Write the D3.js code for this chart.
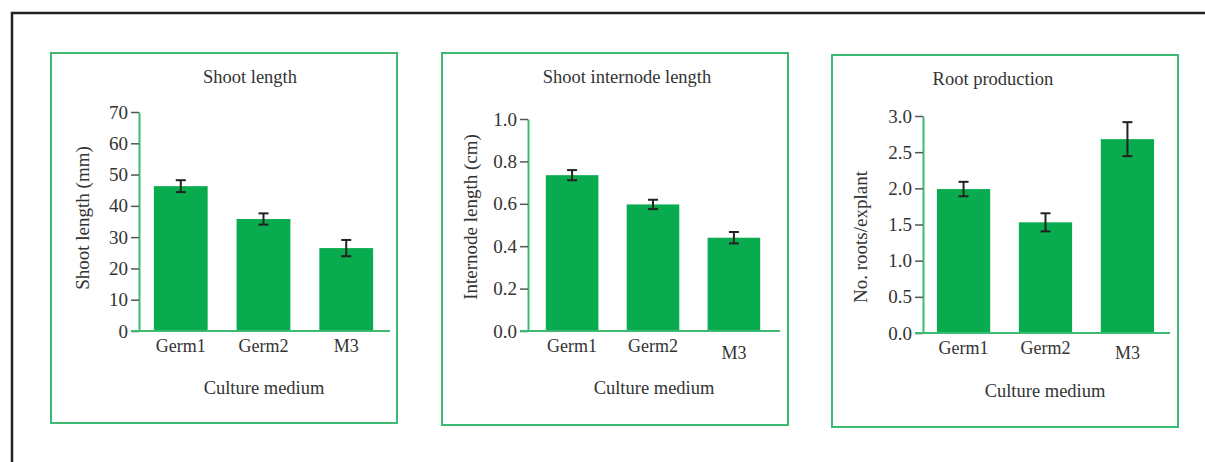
<!DOCTYPE html>
<html>
<head>
<meta charset="utf-8">
<script src="https://cdn.jsdelivr.net/npm/d3@7"></script>
<style>
  body { margin: 0; background: #fff; }
  svg text { font-family: "Liberation Serif", "Times New Roman", serif !important; fill: #333; }
</style>
</head>
<body>
<div id="chart"></div>
<script>
// data
var categories = ["Germ1", "Germ2", "M3"];

var shootLength = [46.3, 35.8, 26.5];
var shootLengthErr = [1.9, 1.8, 2.6];
var shootTicks = [0, 10, 20, 30, 40, 50, 60, 70];

var internodeLength = [0.735, 0.597, 0.44];
var internodeErr = [0.024, 0.022, 0.027];
var internodeTicks = [0, 0.2, 0.4, 0.6, 0.8, 1.0];

var rootCount = [1.99, 1.53, 2.68];
var rootCountErr = [0.1, 0.125, 0.235];
var rootTicks = [0, 0.5, 1.0, 1.5, 2.0, 2.5, 3.0];

var titles = ["Shoot length", "Shoot internode length", "Root production"];
var yLabels = ["Shoot length (mm)", "Internode length (cm)", "No. roots/explant"];
var xLabel = "Culture medium";

var green = "#08ab4e";
var frameGreen = "#3cba74";

var svg = d3.select("#chart")
  .append("svg")
  .attr("width", 1205)
  .attr("height", 462);

// outer black frame (top and left only)
svg.append("line")
  .attr("x1", 11).attr("x2", 1205).attr("y1", 13).attr("y2", 13)
  .attr("stroke", "#222").attr("stroke-width", 2.5);
svg.append("line")
  .attr("x1", 12).attr("x2", 12).attr("y1", 12).attr("y2", 462)
  .attr("stroke", "#222").attr("stroke-width", 2.5);

function makePanel(p, values, errs, ticks, fmt, title, ylab) {
  svg.append("rect")
    .attr("x", p.bx).attr("y", p.by)
    .attr("width", p.bw).attr("height", p.bh)
    .attr("fill", "#fff")
    .attr("stroke", frameGreen)
    .attr("stroke-width", 2);

  var x = d3.scaleBand()
    .domain(categories)
    .range([p.ax, p.axEnd])
    .paddingInner(0.35)
    .paddingOuter(p.outer);

  var y = d3.scaleLinear()
    .domain([0, d3.max(ticks)])
    .range([p.y0, p.yTop]);

  var g = svg.append("g");

  g.selectAll("rect.bar")
    .data(values)
    .enter()
    .append("rect")
    .attr("class", "bar")
    .attr("x", function(d, i) { return x(categories[i]); })
    .attr("width", x.bandwidth())
    .attr("y", function(d) { return y(d); })
    .attr("height", function(d) { return y(0) - y(d); })
    .attr("fill", green);

  // error bars
  var eb = g.selectAll("g.err")
    .data(values)
    .enter()
    .append("g")
    .attr("class", "err")
    .attr("stroke", "#222")
    .attr("stroke-width", 2);
  eb.append("line")
    .attr("x1", function(d, i) { return x(categories[i]) + x.bandwidth() / 2; })
    .attr("x2", function(d, i) { return x(categories[i]) + x.bandwidth() / 2; })
    .attr("y1", function(d, i) { return y(d - errs[i]); })
    .attr("y2", function(d, i) { return y(d + errs[i]); });
  [-1, 1].forEach(function(s) {
    eb.append("line")
      .attr("x1", function(d, i) { return x(categories[i]) + x.bandwidth() / 2 - 5; })
      .attr("x2", function(d, i) { return x(categories[i]) + x.bandwidth() / 2 + 5; })
      .attr("y1", function(d, i) { return y(d + s * errs[i]); })
      .attr("y2", function(d, i) { return y(d + s * errs[i]); });
  });

  // y axis
  var yAxis = g.append("g")
    .attr("transform", "translate(" + p.ax + ",0)")
    .call(d3.axisLeft(y).tickValues(ticks).tickFormat(fmt).tickSize(8).tickSizeOuter(0).tickPadding(3));
  yAxis.attr("font-family", null);
  yAxis.select(".domain").attr("stroke", frameGreen).attr("stroke-width", 2);
  yAxis.selectAll(".tick line").attr("stroke", "#555").attr("stroke-width", 1.5);
  yAxis.selectAll(".tick text")
    .attr("font-size", 19)
    .attr("fill", "#333");

  // x axis line
  g.append("line")
    .attr("x1", p.ax - 8).attr("x2", x.range()[1] + 2)
    .attr("y1", y(0)).attr("y2", y(0))
    .attr("stroke", frameGreen).attr("stroke-width", 2);

  g.selectAll("text.cat")
    .data(categories)
    .enter()
    .append("text")
    .attr("class", "cat")
    .attr("x", function(d) { return x(d) + x.bandwidth() / 2; })
    .attr("y", function(d, i) { return y(0) + 21 + (i == 2 ? p.m3drop : 0); })
    .attr("text-anchor", "middle")
    .attr("font-size", 18)
    .text(function(d) { return d; });

  g.append("text")
    .attr("x", p.titleX).attr("y", p.titleY)
    .attr("text-anchor", "middle")
    .attr("font-size", 18.5)
    .text(title);

  g.append("text")
    .attr("transform", "translate(" + p.ylx + "," + p.yly + ") rotate(-90)")
    .attr("text-anchor", "middle")
    .attr("font-size", 19)
    .text(ylab);

  g.append("text")
    .attr("x", p.xlx).attr("y", p.xly)
    .attr("text-anchor", "middle")
    .attr("font-size", 18.5)
    .text(xLabel);
}

var fmtInt = d3.format("d");
var fmt1 = d3.format(".1f");

makePanel({bx: 51, by: 53, bw: 346, bh: 370, ax: 139, axEnd: 388, outer: 0.18, y0: 331, yTop: 112,
           titleX: 250, titleY: 83, ylx: 89, yly: 218, xlx: 264, xly: 394, m3drop: 0},
          shootLength, shootLengthErr, shootTicks, fmtInt, titles[0], yLabels[0]);

makePanel({bx: 442, by: 53, bw: 346, bh: 372, ax: 528, axEnd: 778, outer: 0.22, y0: 331, yTop: 119,
           titleX: 627, titleY: 83, ylx: 477, yly: 217, xlx: 654, xly: 394, m3drop: 7},
          internodeLength, internodeErr, internodeTicks, fmt1, titles[1], yLabels[1]);

makePanel({bx: 832, by: 55, bw: 346, bh: 372, ax: 923, axEnd: 1168, outer: 0.17, y0: 333, yTop: 116,
           titleX: 993, titleY: 85, ylx: 867, yly: 237, xlx: 1045, xly: 397, m3drop: 5},
          rootCount, rootCountErr, rootTicks, fmt1, titles[2], yLabels[2]);
</script>
</body>
</html>
